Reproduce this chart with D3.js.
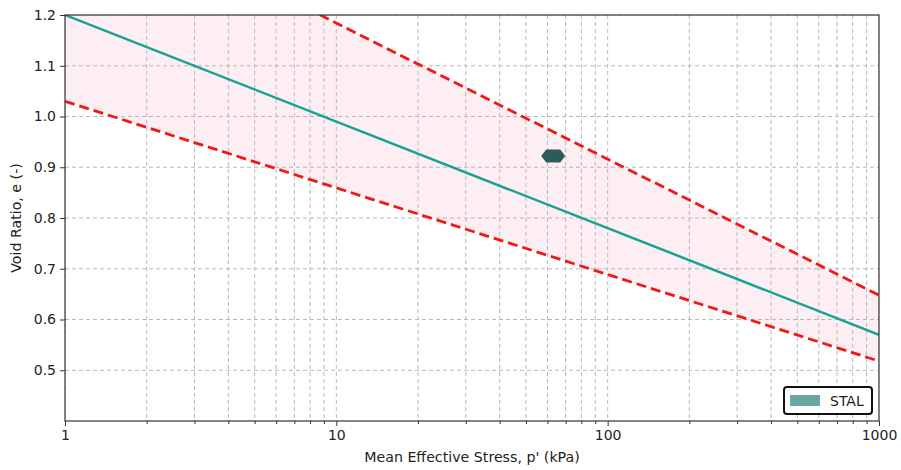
<!DOCTYPE html>
<html><head><meta charset="utf-8">
<script src="https://cdn.jsdelivr.net/npm/d3@7"></script>
<style>body{margin:0;background:#fff}svg text{font-family:"DejaVu Sans",sans-serif}</style>
</head><body><svg id="c" width="901" height="470"></svg>
<script>
const cslP = [1, 1000];
const cslE = [1.2, 0.57];
const upperP = [1, 1000];
const upperE = [1.452, 0.648];
const lowerP = [1, 1000];
const lowerE = [1.03, 0.518];
const sampleP = [63];
const sampleE = [0.922];
const legendLabel = "STAL";
const yTicks = [0.5,0.6,0.7,0.8,0.9,1.0,1.1,1.2];
const xTicks = [1,10,100,1000];

const svg = d3.select("#c");
const m = {l:65,r:879,t:15,b:421};
const x = d3.scaleLog().domain([1,1000]).range([m.l,m.r]);
const y = d3.scaleLinear().domain([0.4,1.2]).range([m.b,m.t]);

svg.append("clipPath").attr("id","clip").append("rect")
  .attr("x",m.l).attr("y",m.t).attr("width",m.r-m.l).attr("height",m.b-m.t);
const g = svg.append("g").attr("clip-path","url(#clip)");

const band = upperP.map((p,i)=>({p, hi:upperE[i], lo:lowerE[i]}));
g.append("path").datum(band)
  .attr("d", d3.area().x(d=>x(d.p)).y0(d=>y(d.lo)).y1(d=>y(d.hi)))
  .attr("fill","#fdeef3");

const minor = [];
for (let d=1; d<1000; d*=10) for (let k=1;k<10;k++) minor.push(d*k);
minor.push(1000);
g.selectAll(".vg").data(minor).enter().append("line")
  .attr("x1",d=>x(d)).attr("x2",d=>x(d)).attr("y1",m.t).attr("y2",m.b)
  .attr("stroke","#b8b8b8").attr("stroke-width",1).attr("stroke-dasharray","4,3");
g.selectAll(".hg").data(yTicks).enter().append("line")
  .attr("x1",m.l).attr("x2",m.r).attr("y1",d=>y(d)).attr("y2",d=>y(d))
  .attr("stroke","#b8b8b8").attr("stroke-width",1).attr("stroke-dasharray","4,3");

const line = d3.line().x(d=>x(d[0])).y(d=>y(d[1]));
g.append("path").datum(upperP.map((p,i)=>[p,upperE[i]])).attr("d",line)
  .attr("fill","none").attr("stroke","#f01818").attr("stroke-width",2.8).attr("stroke-dasharray","10,5");
g.append("path").datum(lowerP.map((p,i)=>[p,lowerE[i]])).attr("d",line)
  .attr("fill","none").attr("stroke","#f01818").attr("stroke-width",2.8).attr("stroke-dasharray","10,5");
g.append("path").datum(cslP.map((p,i)=>[p,cslE[i]])).attr("d",line)
  .attr("fill","none").attr("stroke","#16a393").attr("stroke-width",2.5);

g.selectAll(".pt").data(sampleP.map((p,i)=>[p,sampleE[i]])).enter().append("path")
  .attr("transform",d=>`translate(${x(d[0])},${y(d[1])})`)
  .attr("d","M-12,0 L-7,-6.5 L7,-6.5 L12,0 L7,6.5 L-7,6.5 Z")
  .attr("fill","#2b5c5b");

const xa = svg.append("g").attr("transform",`translate(0,${m.b})`)
  .call(d3.axisBottom(x).tickValues(xTicks).tickFormat(d3.format("d")).tickSize(5).tickPadding(4));
svg.append("g").attr("transform",`translate(0,${m.b})`)
  .call(d3.axisBottom(x).tickValues(minor.filter(d=>!xTicks.includes(d))).tickFormat("").tickSize(3))
  .call(s=>s.select(".domain").remove());
const ya = svg.append("g").attr("transform",`translate(${m.l},0)`)
  .call(d3.axisLeft(y).tickValues(yTicks).tickFormat(d3.format(".1f")).tickSize(5).tickPadding(4));
[xa,ya].forEach(a=>{a.selectAll("text").attr("font-size",14).attr("fill","#222");
  a.select(".domain").remove();});
svg.selectAll("g.tick line").attr("stroke","#333");

svg.append("rect").attr("x",m.l).attr("y",m.t).attr("width",m.r-m.l).attr("height",m.b-m.t)
  .attr("fill","none").attr("stroke","#333").attr("stroke-width",1.2);

svg.append("text").attr("x",(m.l+m.r)/2).attr("y",462).attr("text-anchor","middle")
  .attr("font-size",14.2).attr("fill","#222").text("Mean Effective Stress, p' (kPa)");
svg.append("text").attr("transform",`translate(21,${(m.t+m.b)/2}) rotate(-90)`).attr("text-anchor","middle")
  .attr("font-size",14.2).attr("fill","#222").text("Void Ratio, e (-)");

const lg = svg.append("g");
lg.append("rect").attr("x",784).attr("y",387).attr("width",88).attr("height",27).attr("rx",3)
  .attr("fill","#fff").attr("stroke","#111").attr("stroke-width",2);
lg.append("rect").attr("x",790).attr("y",395).attr("width",30).attr("height",11).attr("fill","#6aa6a4");
lg.append("text").attr("x",830).attr("y",406).attr("font-size",14).attr("fill","#222").text(legendLabel);
</script></body></html>
